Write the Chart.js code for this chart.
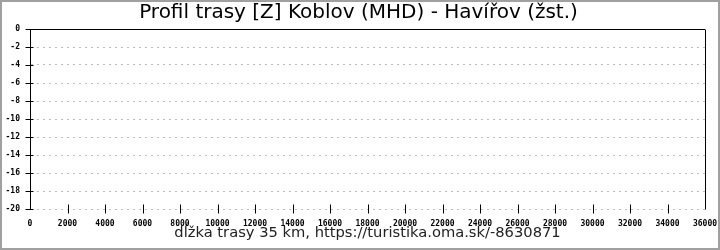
<!DOCTYPE html>
<html>
<head>
<meta charset="utf-8">
<script src="https://cdn.jsdelivr.net/npm/chart.js@4/dist/chart.umd.min.js"></script>
<style>
  html, body { margin: 0; padding: 0; background: #fff; }
  #wrap { width: 720px; height: 250px; box-sizing: border-box; border: 2px solid #a0a0a0; }
  canvas { display: block; }
</style>
</head>
<body>
<div id="wrap"><canvas id="profile" width="716" height="246"></canvas></div>
<script>
// route profile - this route has no elevation points
const chartTitle = 'Profil trasy [Z] Koblov (MHD) - Havířov (žst.)';
const axisTitle = 'dĺžka trasy 35 km, https://turistika.oma.sk/-8630871';
const distances = [];
const elevations = [];
const xTicks = [0, 2000, 4000, 6000, 8000, 10000, 12000, 14000, 16000, 18000,
  20000, 22000, 24000, 26000, 28000, 30000, 32000, 34000, 36000];
const yTicks = [0, -2, -4, -6, -8, -10, -12, -14, -16, -18, -20];

const tickFont = { family: 'DejaVu Sans Mono', size: 8, weight: 'bold' };

// frame on the right and tick marks that cross the axes
const framePlugin = {
  id: 'frame',
  afterLayout(chart) {
    // title sits a little right of the canvas centre
    if (chart.titleBlock) chart.titleBlock.left += 10;
  },
  afterDraw(chart) {
    const { ctx, chartArea: a, scales: { x, y } } = chart;
    const px = (v) => Math.round(v) + 0.5;
    ctx.save();
    ctx.strokeStyle = '#000';
    ctx.lineWidth = 1;
    ctx.beginPath();
    ctx.moveTo(px(a.right), px(a.top));
    ctx.lineTo(px(a.right), px(a.bottom));
    x.ticks.forEach((t) => {
      const xp = px(x.getPixelForValue(t.value));
      if (t.value === 0 || t.value === 36000) return;
      ctx.moveTo(xp, px(a.bottom) - 5);
      ctx.lineTo(xp, px(a.bottom) + 4);
    });
    y.ticks.forEach((t) => {
      const yp = px(y.getPixelForValue(t.value));
      ctx.moveTo(px(a.left) - 5, yp);
      ctx.lineTo(px(a.left) + 3, yp);
    });
    ctx.stroke();
    ctx.restore();
  },
};

new Chart(document.getElementById('profile'), {
  type: 'line',
  data: {
    datasets: [{
      data: distances.map((d, i) => ({ x: d, y: elevations[i] })),
      borderColor: '#000',
      borderWidth: 1,
      pointRadius: 0,
      fill: false,
    }],
  },
  plugins: [framePlugin],
  options: {
    responsive: false,
    animation: false,
    layout: { padding: { left: 0, right: 13, top: 0, bottom: 0 } },
    plugins: {
      legend: { display: false },
      tooltip: { enabled: false },
      title: {
        display: true,
        text: chartTitle,
        color: '#000',
        font: { family: 'DejaVu Sans', size: 20, weight: 'normal', lineHeight: 1 },
        padding: { top: 1, bottom: 6 },
      },
    },
    scales: {
      x: {
        type: 'linear',
        min: 0,
        max: 36000,
        afterBuildTicks: (s) => { s.ticks = xTicks.map((v) => ({ value: v })); },
        afterFit: (s) => { s.height = 39; s.paddingLeft = 0; s.paddingRight = 0; },
        grid: { display: false, drawTicks: false },
        border: { display: false },
        ticks: {
          color: '#000',
          font: tickFont,
          padding: 10,
          maxRotation: 0,
          autoSkip: false,
          callback: (v) => String(v),
        },
        title: {
          display: true,
          text: axisTitle,
          color: '#222',
          font: { family: 'DejaVu Sans', size: 14.7 },
          padding: { top: 0, bottom: 6 },
        },
      },
      y: {
        type: 'linear',
        min: -20,
        max: 0,
        afterBuildTicks: (s) => { s.ticks = yTicks.map((v) => ({ value: v })); },
        afterFit: (s) => { s.width = 28; },
        grid: {
          drawTicks: false,
          color: (c) => (c.tick && c.tick.value === 0 ? '#000' : '#bdbdbd'),
        },
        border: {
          display: true,
          color: '#000',
          dash: (c) => (c.tick && c.tick.value === 0 ? [] : [2, 4]),
        },
        ticks: {
          color: '#000',
          font: tickFont,
          padding: 10,
          autoSkip: false,
          callback: (v) => String(v),
        },
      },
    },
  },
});
</script>
</body>
</html>
